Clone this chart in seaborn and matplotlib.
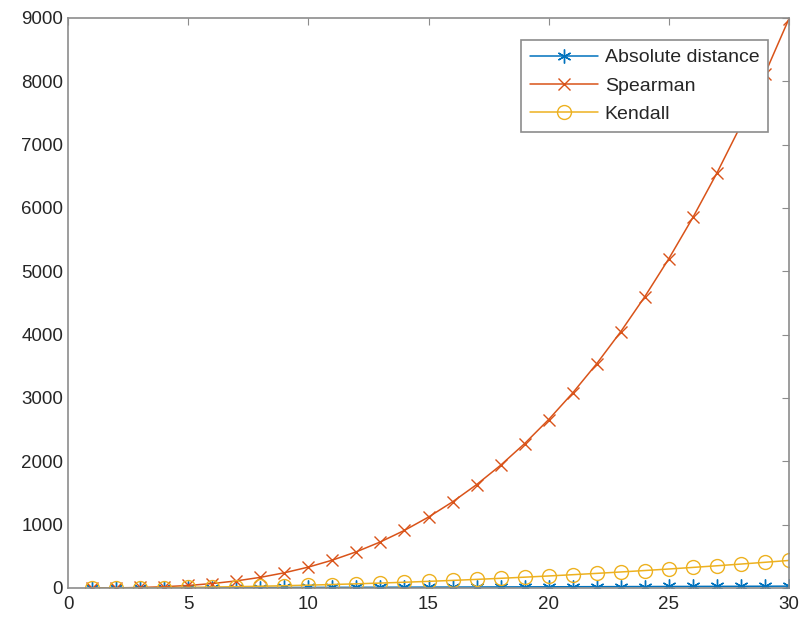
import matplotlib
matplotlib.use("Agg")
import matplotlib.pyplot as plt
import seaborn as sns
import pandas as pd

n_items = list(range(1, 31))
absolute_distance = [0, 1, 2, 3, 4, 5, 6, 7, 8, 9, 10, 11, 12, 13, 14, 15,
                     16, 17, 18, 19, 20, 21, 22, 23, 24, 25, 26, 27, 28, 29]
spearman = [0, 2, 8, 20, 40, 70, 112, 168, 240, 330, 440, 572, 728, 910, 1120,
            1360, 1632, 1938, 2280, 2660, 3080, 3542, 4048, 4600, 5200, 5850,
            6552, 7308, 8120, 8990]
kendall = [0, 1, 3, 6, 10, 15, 21, 28, 36, 45, 55, 66, 78, 91, 105, 120, 136,
           153, 171, 190, 210, 231, 253, 276, 300, 325, 351, 378, 406, 435]

series_names = ["Absolute distance", "Spearman", "Kendall"]
colors = ["#0072BD", "#D95319", "#EDB120"]
markers = [(6, 2, 0), "x", "o"]
marker_sizes = [10, 8, 10]

df = pd.DataFrame({
    "n": n_items * 3,
    "value": absolute_distance + spearman + kendall,
    "metric": [series_names[0]] * 30 + [series_names[1]] * 30 + [series_names[2]] * 30,
})

sns.set_style("white")
plt.rcParams["font.family"] = ["Liberation Sans", "DejaVu Sans"]

fig = plt.figure(figsize=(8.02, 6.21), dpi=100)
ax = fig.add_axes([68 / 802, 1 - 588 / 621, (789 - 68) / 802, (588 - 18) / 621])

for name, col, mk, ms in zip(series_names, colors, markers, marker_sizes):
    sub = df[df["metric"] == name]
    sns.lineplot(data=sub, x="n", y="value", ax=ax, color=col, marker=mk,
                 markersize=ms,
                 markerfacecolor="none" if mk == "o" else col,
                 markeredgecolor=col, markeredgewidth=1.0,
                 linewidth=1.1, label=name)

ax.set_xlim(0, 30)
ax.set_ylim(0, 9000)
ax.set_xticks(range(0, 31, 5))
ax.set_yticks(range(0, 9001, 1000))
ax.set_xlabel("")
ax.set_ylabel("")
for s in ax.spines.values():
    s.set_color("#8c8c8c")
    s.set_linewidth(1.2)
ax.tick_params(direction="in", length=5, color="#8c8c8c", labelsize=13.5,
               labelcolor="#262626", top=True, right=True)
ax.tick_params(axis="x", pad=6)

leg = ax.legend(loc="upper right", fontsize=14, frameon=True, fancybox=False,
                framealpha=1.0, edgecolor="#8c8c8c",
                handlelength=3.5, handletextpad=0.35, borderpad=0.45,
                labelspacing=0.55, borderaxespad=0.0)
leg.set_bbox_to_anchor((768 / 802, 1 - 40 / 621), transform=fig.transFigure)
leg.get_frame().set_linewidth(1.2)
for t in leg.get_texts():
    t.set_color("#262626")

fig.savefig("out.png", dpi=100)
